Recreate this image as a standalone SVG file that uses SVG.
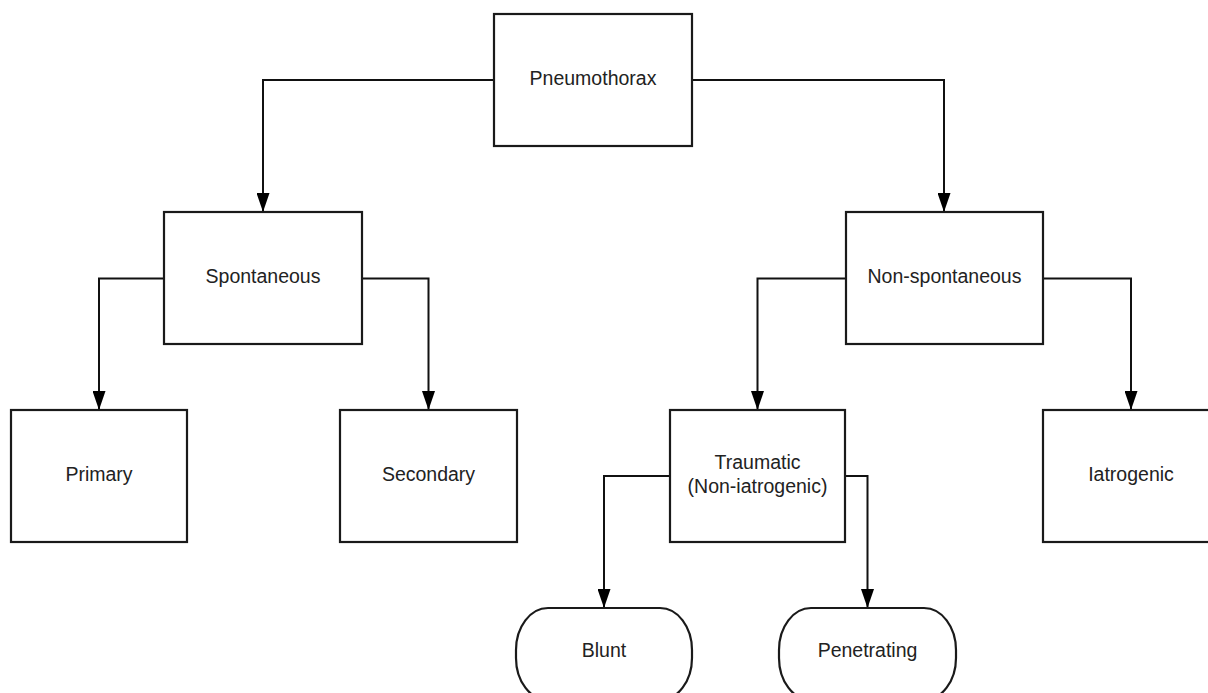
<svg xmlns="http://www.w3.org/2000/svg" width="1208" height="693" viewBox="0 0 1208 693">
<style>
.box{fill:#fff;stroke:#1a1a1a;stroke-width:2.2}
.lbl{font-family:"Liberation Sans",Arial,sans-serif;font-size:19.5px;fill:#222;text-anchor:middle}
.con{fill:none;stroke:#111;stroke-width:2;marker-end:url(#arr)}
</style>
<defs>
<marker id="arr" viewBox="0 0 19 13" refX="19" refY="6.5" markerWidth="19" markerHeight="13" markerUnits="userSpaceOnUse" orient="auto">
<path d="M0,0 L19,6.5 L0,13 Z" fill="#000"/>
</marker>
</defs>
<rect width="1208" height="693" fill="#fff"/>
<g id="connectors">
<path class="con" d="M494,80 H263 V212"/>
<path class="con" d="M692,80 H944 V212"/>
<path class="con" d="M164,278.5 H99 V410"/>
<path class="con" d="M362,278.5 H428.5 V410"/>
<path class="con" d="M846,278.5 H757.5 V410"/>
<path class="con" d="M1043,278.5 H1131 V410"/>
<path class="con" d="M670,476 H604 V608"/>
<path class="con" d="M845,476 H867.5 V608"/>
</g>
<g id="pneumothorax">
<rect class="box" x="494" y="14" width="198" height="132"/>
<text class="lbl" x="593" y="85">Pneumothorax</text>
</g>
<g id="spontaneous">
<rect class="box" x="164" y="212" width="198" height="132"/>
<text class="lbl" x="263" y="283">Spontaneous</text>
</g>
<g id="non-spontaneous">
<rect class="box" x="846" y="212" width="197" height="132"/>
<text class="lbl" x="944.5" y="283">Non-spontaneous</text>
</g>
<g id="primary">
<rect class="box" x="11" y="410" width="176" height="132"/>
<text class="lbl" x="99" y="481">Primary</text>
</g>
<g id="secondary">
<rect class="box" x="340" y="410" width="177" height="132"/>
<text class="lbl" x="428.5" y="481">Secondary</text>
</g>
<g id="traumatic">
<rect class="box" x="670" y="410" width="175" height="132"/>
<text class="lbl" x="757.5" y="468.5">Traumatic</text>
<text class="lbl" x="757.5" y="492.5">(Non-iatrogenic)</text>
</g>
<g id="iatrogenic">
<rect class="box" x="1043" y="410" width="176" height="132"/>
<text class="lbl" x="1131" y="481">Iatrogenic</text>
</g>
<g id="blunt">
<rect class="box" x="516" y="608" width="176" height="92" rx="32" ry="42"/>
<text class="lbl" x="604" y="657">Blunt</text>
</g>
<g id="penetrating">
<rect class="box" x="779" y="608" width="177" height="92" rx="32" ry="42"/>
<text class="lbl" x="867.5" y="657">Penetrating</text>
</g>
</svg>
